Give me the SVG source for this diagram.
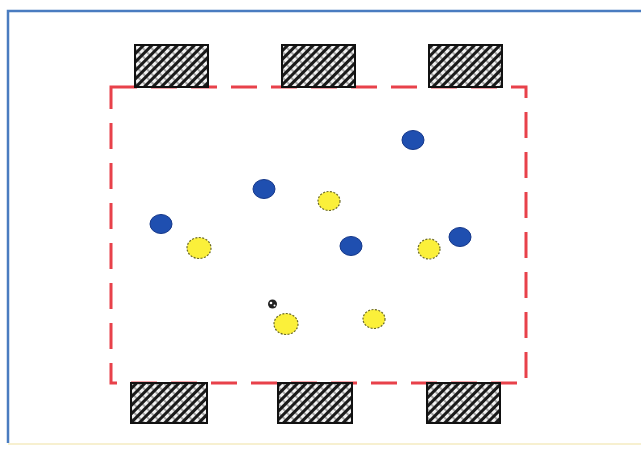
<svg xmlns="http://www.w3.org/2000/svg" width="641" height="454" viewBox="0 0 641 454">
<defs>
<pattern id="hatch" width="6" height="6" patternUnits="userSpaceOnUse" patternTransform="rotate(-45)">
<rect width="6" height="6" fill="#f2f2f2"/>
<rect width="6" height="3" fill="#1a1a1a"/>
<rect x="0" y="0" width="2" height="6" fill="#1a1a1a" opacity="0.35"/>
</pattern>
</defs>
<style>
.goal{fill:url(#hatch);stroke:#111;stroke-width:2}
.blue{fill:#1f4fb0;stroke:#16388a;stroke-width:1}
.yellow{fill:#fbf03a;stroke:#6b6a2a;stroke-width:1.2;stroke-dasharray:2 1.5}
</style>
<rect width="641" height="454" fill="#fff"/>
<path d="M8,443 V11 H641" fill="none" stroke="#4a7cc0" stroke-width="2.5"/>
<line x1="8" y1="444" x2="641" y2="444" stroke="#f7f0d0" stroke-width="2"/>
<g id="connectors"></g>
<g id="field">
<rect x="111" y="87" width="415" height="296" fill="none" stroke="#e8414a" stroke-width="3" stroke-dasharray="26 14"/>
</g>
<g id="goal-top-left"><rect class="goal" x="135" y="45" width="73" height="42"/></g>
<g id="goal-top-mid"><rect class="goal" x="282" y="45" width="73" height="42"/></g>
<g id="goal-top-right"><rect class="goal" x="429" y="45" width="73" height="42"/></g>
<g id="goal-bottom-left"><rect class="goal" x="131" y="383" width="76" height="40"/></g>
<g id="goal-bottom-mid"><rect class="goal" x="278" y="383" width="74" height="40"/></g>
<g id="goal-bottom-right"><rect class="goal" x="427" y="383" width="73" height="40"/></g>
<g id="blue1"><ellipse class="blue" cx="161" cy="224" rx="11" ry="9.5"/></g>
<g id="blue2"><ellipse class="blue" cx="264" cy="189" rx="11" ry="9.5"/></g>
<g id="blue3"><ellipse class="blue" cx="413" cy="140" rx="11" ry="9.5"/></g>
<g id="blue4"><ellipse class="blue" cx="351" cy="246" rx="11" ry="9.5"/></g>
<g id="blue5"><ellipse class="blue" cx="460" cy="237" rx="11" ry="9.5"/></g>
<g id="yellow1"><ellipse class="yellow" cx="199" cy="248" rx="12" ry="10.5"/></g>
<g id="yellow2"><ellipse class="yellow" cx="329" cy="201" rx="11" ry="9.5"/></g>
<g id="yellow3"><ellipse class="yellow" cx="429" cy="249" rx="11" ry="10"/></g>
<g id="yellow4"><ellipse class="yellow" cx="286" cy="324" rx="12" ry="10.5"/></g>
<g id="yellow5"><ellipse class="yellow" cx="374" cy="319" rx="11" ry="9.5"/></g>
<g id="ball"><circle cx="272.5" cy="304" r="4.5" fill="#222"/><circle cx="271" cy="303" r="1.3" fill="#fff"/><circle cx="274.5" cy="305.5" r="1" fill="#fff"/></g>
</svg>
